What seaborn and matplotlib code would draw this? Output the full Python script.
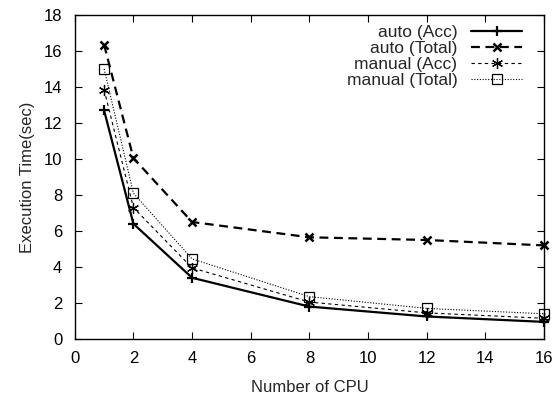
"""
Execution time vs. number of CPUs (auto vs manual)
"""

import pandas as pd
import matplotlib
matplotlib.use('Agg')
import matplotlib.pyplot as plt
import seaborn as sns

# Data
cpus = [1, 2, 4, 8, 12, 16]
auto_acc = [12.7, 6.4, 3.4, 1.8, 1.25, 0.95]
auto_total = [16.35, 10.05, 6.5, 5.65, 5.5, 5.2]
manual_acc = [13.85, 7.3, 3.95, 2.05, 1.45, 1.15]
manual_total = [15.0, 8.1, 4.45, 2.35, 1.7, 1.4]

series_names = ['auto (Acc)', 'auto (Total)', 'manual (Acc)', 'manual (Total)']
series_values = [auto_acc, auto_total, manual_acc, manual_total]

x_ticks = list(range(0, 17, 2))
y_ticks = list(range(0, 19, 2))

# Set style
sns.set_style('white')
plt.rcParams['font.family'] = ['Liberation Sans', 'DejaVu Sans']
plt.rcParams['font.size'] = 12

df = pd.DataFrame({
    'cpu': cpus * len(series_names),
    'time': [v for vals in series_values for v in vals],
    'series': [name for name in series_names for _ in cpus],
})

styles = {
    'auto (Acc)': dict(marker='+', ms=7, mew=1.6, lw=1.6, dashes=None),
    'auto (Total)': dict(marker='x', ms=6, mew=1.8, lw=1.6, dashes=(4, 2.5)),
    'manual (Acc)': dict(marker=(6, 2, 0), ms=8, mew=0.9, lw=0.8, dashes=(3, 3)),
    'manual (Total)': dict(marker='s', ms=7, mew=0.9, lw=0.8, dashes=(1, 1.5)),
}

fig = plt.figure(figsize=(5.58, 3.96), dpi=100)
ax = fig.add_axes([0.134, 0.144, 0.841, 0.818])

for name in series_names:
    st = styles[name]
    sub = df[df['series'] == name]
    sns.lineplot(data=sub, x='cpu', y='time', ax=ax, color='black',
                 label=name, marker=st['marker'], markersize=st['ms'],
                 markeredgewidth=st['mew'], markerfacecolor='none',
                 markeredgecolor='black', linewidth=st['lw'], clip_on=False)
    line = ax.lines[-1]
    if st['dashes'] is not None:
        line.set_dashes(st['dashes'])

ax.set_xlim(0, 16)
ax.set_ylim(0, 18)
ax.set_xticks(x_ticks)
ax.set_yticks(y_ticks)
ax.set_xlabel('Number of CPU', labelpad=10)
ax.set_ylabel('Execution Time(sec)', labelpad=6)
ax.tick_params(direction='in', length=5, width=0.8, top=True, right=True,
               bottom=True, left=True, colors='black')
ax.tick_params(axis='x', pad=9)
ax.tick_params(axis='y', pad=9)
for sp in ax.spines.values():
    sp.set_color('black')
    sp.set_linewidth(1.0)

leg = ax.legend(loc='upper right', bbox_to_anchor=(0.982, 1.012),
                frameon=False, markerfirst=False,
                handlelength=2.9, handletextpad=0.8, labelspacing=0.05,
                borderaxespad=0.4, fontsize=12.5)
leg._legend_box.align = 'right'

fig.savefig('out.png', dpi=100)
plt.close(fig)
